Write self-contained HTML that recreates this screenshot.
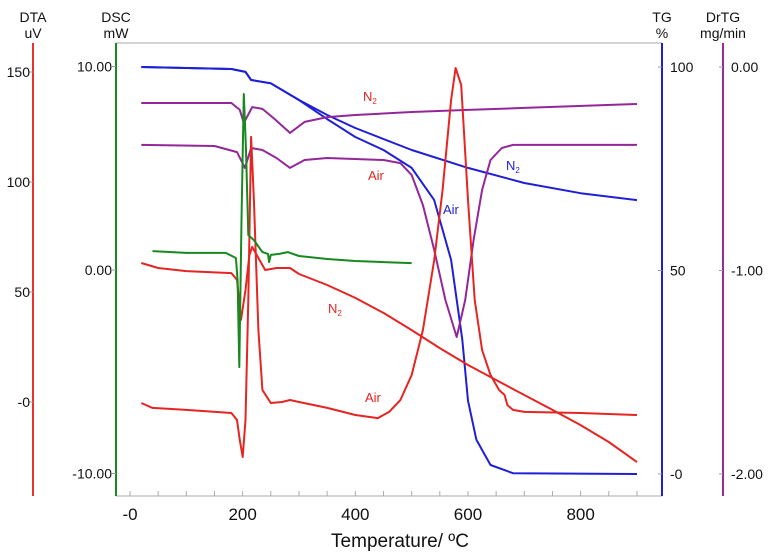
<!DOCTYPE html>
<html><head><meta charset="utf-8">
<style>
body{margin:0;background:#fff;}
svg{display:block;font-family:"Liberation Sans",sans-serif;}
</style></head>
<body>
<svg id="chart" width="775" height="556" viewBox="0 0 775 556">
<g id="axes"></g>
<g id="series"></g>
<g id="labels"></g>
</svg>
<script>
// ---- data ----
const xTicks = [0, 200, 400, 600, 800];
const xTickLabels = ["-0", "200", "400", "600", "800"];
const dtaTicks = [150, 100, 50, 0];
const dtaTickLabels = ["150", "100", "50", "-0"];
const dscTicks = [10, 0, -10];
const dscTickLabels = ["10.00", "0.00", "-10.00"];
const tgTicks = [100, 50, 0];
const tgTickLabels = ["100", "50", "-0"];
const drtgTicks = [0, -1, -2];
const drtgTickLabels = ["0.00", "-1.00", "-2.00"];

const tgN2T = [20,180,205,215,250,300,350,400,500,600,700,800,900];
const tgN2V = [100,99.5,98.8,96.8,96,91.9,88.2,85,79.6,75.2,71.5,69,67.3];
const tgAirT = [20,180,205,215,250,300,320,350,400,450,500,540,570,590,600,615,640,680,900];
const tgAirV = [100,99.5,98.8,96.8,96,91.9,90,87.2,82.8,79.6,75.2,67.3,52.6,33,18,8.4,2.2,0.2,0];

const drN2T = [20,180,195,202,217,235,255,284,310,350,400,500,600,700,900];
const drN2V = [-0.177,-0.177,-0.211,-0.275,-0.197,-0.206,-0.251,-0.324,-0.27,-0.246,-0.236,-0.221,-0.211,-0.201,-0.182];
const drAirT = [20,150,190,204,215,235,260,284,310,350,450,480,500,520,540,560,580,595,610,625,640,660,680,900];
const drAirV = [-0.383,-0.388,-0.418,-0.496,-0.398,-0.408,-0.447,-0.496,-0.457,-0.447,-0.457,-0.472,-0.531,-0.678,-0.899,-1.145,-1.327,-1.145,-0.85,-0.604,-0.457,-0.398,-0.383,-0.383];

const dscT = [40,100,170,188,191,194,198,202,206,210,220,235,245,247,250,265,280,300,350,400,450,500];
const dscV = [0.93,0.84,0.84,0.59,-0.49,-4.77,2.46,8.65,5.9,1.72,1.47,0.88,0.79,0.39,0.74,0.79,0.88,0.69,0.54,0.44,0.39,0.34];

const dtaN2T = [20,50,100,180,190,197,205,212,217,225,240,260,284,300,350,400,450,500,550,600,650,700,750,800,850,900];
const dtaN2V = [63.2,60.9,59.5,58.6,55.5,37.3,50.9,66.8,70.5,66.8,60,60.9,60.9,58.2,53.2,47.3,40.5,32.7,24.5,16.8,10,3.2,-3.6,-10.5,-18.2,-27.3];
const dtaAirT = [20,40,100,180,190,195,200,205,210,215,220,228,235,250,270,284,300,350,400,440,460,480,500,520,540,555,570,578,588,600,612,625,640,655,665,670,680,700,800,900];
const dtaAirV = [-0.45,-2.7,-3.6,-5,-8.2,-17.3,-25,-8.2,46.4,120.5,91.8,32.7,5.5,-0.45,0,0.9,0,-2.7,-5.9,-7.3,-4.5,0.9,12.3,32.7,64.5,96.4,137.3,151.8,144.1,91.8,46.4,23.6,12.3,5.5,3.2,-1.4,-3.6,-4.5,-5,-5.9];

// ---- scales ----
const X = t => 130 + t * 0.5633;
const Ydta = v => 402 - v * 2.2;
const Ydsc = v => 270 - v * 20.35;
const Ytg = v => 474 - v * 4.07;
const Ydr = v => 67 - v * 203.5;
const NS = "http://www.w3.org/2000/svg";
const axes = document.getElementById('axes');
const series = document.getElementById('series');
const labels = document.getElementById('labels');
function mk(tag, attrs, parent) {
  const e = document.createElementNS(NS, tag);
  for (const k in attrs) e.setAttribute(k, attrs[k]);
  parent.appendChild(e);
  return e;
}
function txt(x, y, s, anchor, size, fill, parent) {
  const t = mk('text', {x: x, y: y, 'text-anchor': anchor, 'font-size': size, fill: fill}, parent);
  t.textContent = s;
  return t;
}

let f = mk('line', {x1: 116, y1: 43, x2: 662, y2: 43, stroke: '#aaa', 'stroke-width': 1}, axes);


let xa = mk('line', {x1: 116, y1: 496, x2: 662, y2: 496, stroke: '#aaa', 'stroke-width': 1}, axes);


for (let t = 0; t <= 950; t += 50) {
  if (X(t) > 660) break;
  const tk = mk('line', {x1: X(t), y1: 496, x2: X(t), y2: 491, stroke: '#aaa'}, axes);
  
  
}
xTicks.forEach((t, i) => {
  const l = txt(X(t), 520, xTickLabels[i], 'middle', 17, '#111', axes);
  
  
});
const xt = txt(400, 547, 'Temperature/ ºC', 'middle', 19, '#111', axes);



function vAxis(x, color, ticks, tlabels, sc, lx, anchor, t1, t2, name) {
  const a = mk('line', {x1: x, y1: 43, x2: x, y2: 496, stroke: color, 'stroke-width': 2}, axes);
  
  
  ticks.forEach((v, i) => {
    const y = sc(v);
    mk('line', {x1: x - 4, y1: y, x2: x, y2: y, stroke: '#999'}, axes);
    const l = txt(lx, y + 5, tlabels[i], anchor, 14, '#111', axes);
    
    
  });
  const h1 = txt(x, 22, t1, 'middle', 14, '#111', axes);
  
  
  const h2 = txt(x, 38, t2, 'middle', 14, '#111', axes);
  
  
}
vAxis(33, '#e8322f', dtaTicks, dtaTickLabels, Ydta, 30, 'end', 'DTA', 'uV', 'dta');
vAxis(116, '#1a8a1a', dscTicks, dscTickLabels, Ydsc, 112, 'end', 'DSC', 'mW', 'dsc');
vAxis(662, '#2020d0', tgTicks, tgTickLabels, Ytg, 670, 'start', 'TG', '%', 'tg');
vAxis(723, '#9a2a9a', drtgTicks, drtgTickLabels, Ydr, 731, 'start', 'DrTG', 'mg/min', 'drtg');

function line(ts, vs, sc, color, name) {
  const d = ts.map((t, i) => (i ? 'L' : 'M') + X(t).toFixed(1) + ',' + sc(vs[i]).toFixed(1)).join(' ');
  const p = mk('path', {d: d, fill: 'none', stroke: color, 'stroke-width': 2, 'stroke-linejoin': 'round'}, series);
  
  
}
line(tgN2T, tgN2V, Ytg, '#1f1fd6', 'tg-n2-line');
line(tgAirT, tgAirV, Ytg, '#1f1fd6', 'tg-air-line');
line(drN2T, drN2V, Ydr, '#93279a', 'drtg-n2-line');
line(drAirT, drAirV, Ydr, '#93279a', 'drtg-air-line');
line(dtaN2T, dtaN2V, Ydta, '#e52521', 'dta-n2-line');
line(dtaAirT, dtaAirV, Ydta, '#e52521', 'dta-air-line');
line(dscT, dscV, Ydsc, '#17891f', 'dsc-line');

function lab(x, y, s, sub, color, name) {
  const t = txt(x, y, s, 'start', 13, color, labels);
  if (sub) {
    const ts = document.createElementNS(NS, 'tspan');
    ts.setAttribute('font-size', 8);
    ts.setAttribute('dy', 3);
    ts.textContent = sub;
    t.appendChild(ts);
  }
  
  
}
lab(363, 101, 'N', '2', '#e52521', 'label-n2-upper');
lab(368, 180, 'Air', '', '#e52521', 'label-air-upper');
lab(506, 170, 'N', '2', '#1f1fd6', 'label-tg-n2');
lab(443, 214, 'Air', '', '#1f1fd6', 'label-tg-air');
lab(328, 313, 'N', '2', '#e52521', 'label-dta-n2');
lab(365, 402, 'Air', '', '#e52521', 'label-dta-air');
</script>
</body></html>
